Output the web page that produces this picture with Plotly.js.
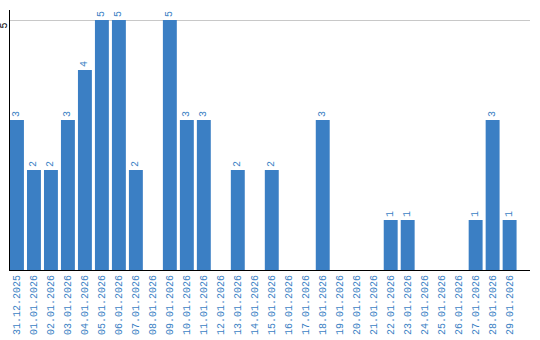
<!DOCTYPE html>
<html>
<head>
<meta charset="utf-8">
<script src="https://cdn.plot.ly/plotly-3.0.1.min.js"></script>
<style>html,body{margin:0;padding:0;background:#fff;}#chart{width:540px;height:340px;}</style>
</head>
<body>
<div id="chart"></div>
<script>
var categories = ["31.12.2025","01.01.2026","02.01.2026","03.01.2026","04.01.2026","05.01.2026","06.01.2026","07.01.2026","08.01.2026","09.01.2026","10.01.2026","11.01.2026","12.01.2026","13.01.2026","14.01.2026","15.01.2026","16.01.2026","17.01.2026","18.01.2026","19.01.2026","20.01.2026","21.01.2026","22.01.2026","23.01.2026","24.01.2026","25.01.2026","26.01.2026","27.01.2026","28.01.2026","29.01.2026"];
var values = [3,2,2,3,4,5,5,2,0,5,3,3,0,2,0,2,0,0,3,0,0,0,1,1,0,0,0,1,3,1];
var yTickVals = [5];
var yTickText = ["5"];

var blue = "#3b7fc4";
var labels = values.map(function(v){ return v > 0 ? String(v) : ""; });

var trace = {
  type: "bar",
  x: categories,
  y: values,
  text: labels,
  textposition: "outside",
  textangle: -90,
  cliponaxis: false,
  textfont: {family: "Liberation Mono, DejaVu Sans Mono, monospace", size: 10, color: blue},
  marker: {color: blue},
  hoverinfo: "none"
};

var layout = {
  width: 540, height: 340,
  margin: {l: 10, r: 10, t: 10, b: 70},
  paper_bgcolor: "#fff", plot_bgcolor: "#fff",
  bargap: 0.18,
  showlegend: false,
  font: {family: "Liberation Mono, DejaVu Sans Mono, monospace", size: 10, color: "#000"},
  xaxis: {
    type: "category",
    range: [-0.41, 30.2],
    showline: true, linecolor: "#000", linewidth: 1,
    showgrid: false, zeroline: false,
    ticks: "", tickangle: -90,
    tickfont: {family: "Liberation Mono, DejaVu Sans Mono, monospace", size: 10, color: blue},
    automargin: false
  },
  yaxis: {
    range: [0, 5.2],
    tickvals: yTickVals, ticktext: yTickText,
    tickangle: -90,
    ticklabelshift: 7,
    ticklabelstandoff: -2,
    showline: true, linecolor: "#000", linewidth: 1,
    showgrid: true, gridcolor: "#c8c8c8", gridwidth: 1,
    zeroline: false, ticks: "",
    tickfont: {family: "Liberation Mono, DejaVu Sans Mono, monospace", size: 10, color: "#000"},
    automargin: false
  }
};

Plotly.newPlot("chart", [trace], layout, {staticPlot: true, displayModeBar: false});
</script>
</body>
</html>
